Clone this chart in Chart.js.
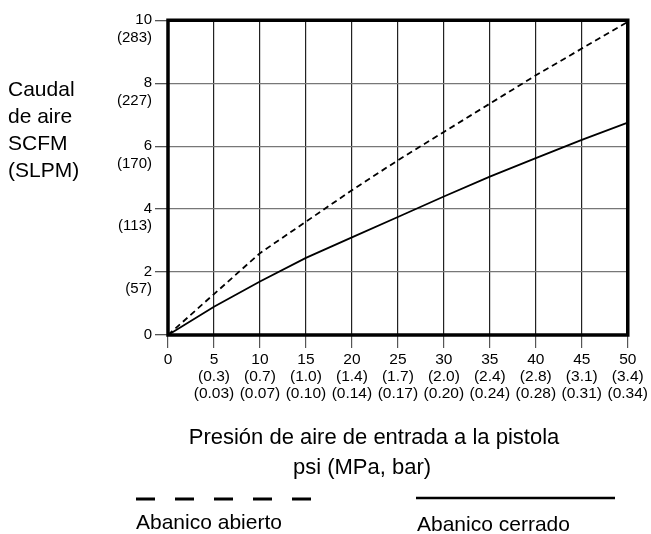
<!DOCTYPE html>
<html>
<head>
<meta charset="UTF-8">
<title>Caudal de aire</title>
<script src="https://cdn.jsdelivr.net/npm/chart.js"></script>
<style>
    body { margin: 0; background: #fff; font-family: 'Liberation Sans', Arial, sans-serif; color: #000; }
    #wrap { position: relative; width: 651px; height: 534px; }
    #chart { position: absolute; left: 0; top: 0; }
    .txt { position: absolute; white-space: nowrap; }
    #yTitle { left: 8px; top: 75px; font-size: 21px; line-height: 27px; }
    .xTitle { font-size: 22px; transform: translateX(-50%); }
    .legText { font-size: 21px; }
    svg { position: absolute; left: 0; top: 0; }
</style>
</head>
<body>
<div id="wrap">
    <canvas id="chart" width="651" height="534"></canvas>
    <div id="yTitle" class="txt">Caudal<br>de aire<br>SCFM<br>(SLPM)</div>
    <div class="txt xTitle" style="left:374px; top:424px;">Presión de aire de entrada a la pistola</div>
    <div class="txt xTitle" style="left:362px; top:454px;">psi (MPa, bar)</div>
    <svg width="651" height="534">
        <line x1="136" y1="499" x2="323" y2="499" stroke="#000" stroke-width="3" stroke-dasharray="19,20"></line>
        <line x1="416" y1="498" x2="615" y2="498" stroke="#000" stroke-width="2.5"></line>
    </svg>
    <div class="txt legText" style="left:136px; top:510px;">Abanico abierto</div>
    <div class="txt legText" style="left:417px; top:512px;">Abanico cerrado</div>
</div>

<script>
    // presión de entrada, psi
    var psi = [0, 5, 10, 15, 20, 25, 30, 35, 40, 45, 50];
    // caudal SCFM
    var abierto = [0, 1.3, 2.6, 3.6, 4.6, 5.55, 6.45, 7.35, 8.25, 9.1, 9.95];
    var cerrado = [0, 0.9, 1.7, 2.45, 3.1, 3.75, 4.4, 5.03, 5.62, 6.2, 6.75];

    // etiquetas secundarias del eje x
    var xMpa = ['', '(0.3)', '(0.7)', '(1.0)', '(1.4)', '(1.7)', '(2.0)', '(2.4)', '(2.8)', '(3.1)', '(3.4)'];
    var xBar = ['', '(0.03)', '(0.07)', '(0.10)', '(0.14)', '(0.17)', '(0.20)', '(0.24)', '(0.28)', '(0.31)', '(0.34)'];
    // eje y
    var yScfm = [0, 2, 4, 6, 8, 10];
    var ySlpm = ['', '(57)', '(113)', '(170)', '(227)', '(283)'];

    function toPoints(ys) {
        return psi.map(function (p, i) { return { x: p, y: ys[i] }; });
    }

    var boxBorder = {
        id: 'boxBorder',
        afterDraw: function (chart) {
            var a = chart.chartArea, c = chart.ctx;
            c.save();
            c.strokeStyle = '#000';
            c.lineWidth = 3.5;
            c.strokeRect(a.left, a.top, a.right - a.left, a.bottom - a.top);
            c.restore();
        }
    };

    var fam = "'Liberation Sans', Arial, sans-serif";

    new Chart(document.getElementById('chart'), {
        type: 'line',
        data: {
            datasets: [{
                label: 'Abanico abierto',
                data: toPoints(abierto),
                borderColor: '#000',
                borderWidth: 1.8,
                borderDash: [6, 4],
                pointRadius: 0,
                tension: 0
            }, {
                label: 'Abanico cerrado',
                data: toPoints(cerrado),
                borderColor: '#000',
                borderWidth: 1.8,
                pointRadius: 0,
                tension: 0
            }]
        },
        options: {
            responsive: false,
            animation: false,
            layout: { padding: { top: 19, right: 22, bottom: 124, left: 0 } },
            plugins: { legend: { display: false }, tooltip: { enabled: false } },
            scales: {
                x: {
                    type: 'linear',
                    min: 0, max: 50,
                    afterFit: function (s) { s.height = 75; },
                    border: { display: false },
                    grid: { color: '#222', lineWidth: 1.2, tickLength: 13, tickColor: '#555' },
                    ticks: {
                        stepSize: 5,
                        maxRotation: 0,
                        color: '#000',
                        font: { family: fam, size: 15.5, lineHeight: 1.1 },
                        padding: 3,
                        callback: function (v) {
                            var i = psi.indexOf(v);
                            if (i <= 0) return String(v);
                            return [String(v), xMpa[i], xBar[i]];
                        }
                    }
                },
                y: {
                    min: 0, max: 10,
                    afterFit: function (s) { s.width = 168; },
                    border: { display: false },
                    grid: { color: '#777', lineWidth: 1.3, tickLength: 13, tickColor: '#555' },
                    ticks: {
                        stepSize: 2,
                        color: '#000',
                        font: { family: fam, size: 15, lineHeight: 1.15 },
                        padding: 3,
                        labelOffset: 8.6,
                        callback: function (v) {
                            var i = yScfm.indexOf(v);
                            return [String(v), i >= 0 ? ySlpm[i] : ''];
                        }
                    }
                }
            }
        },
        plugins: [boxBorder]
    });
</script>
</body>
</html>
